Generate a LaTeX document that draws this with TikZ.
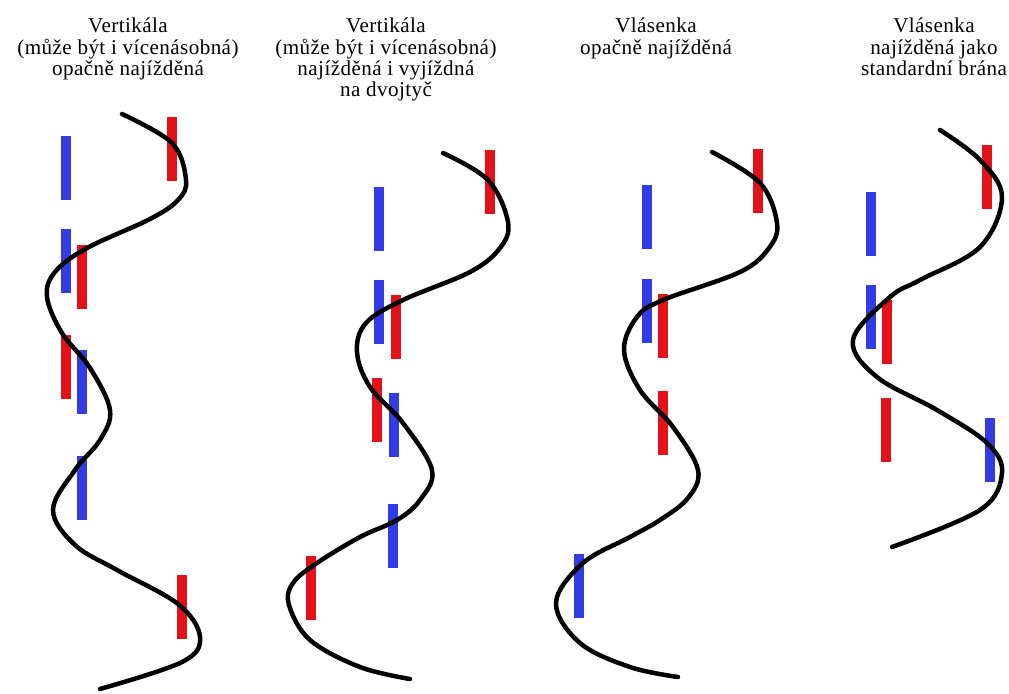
\documentclass[tikz,border=0pt]{standalone}
\usepackage{fontspec}
\setmainfont{Liberation Serif}
\newfontfamily\titulek[LetterSpace=2]{Liberation Serif}
\usepackage{tikz}
\usetikzlibrary{positioning}
\definecolor{modra}{RGB}{50,60,228}
\definecolor{cervena}{RGB}{226,18,24}
\tikzset{
  branaM/.style={rectangle, fill=modra, inner sep=0pt, minimum width=0.27cm, minimum height=1.58cm},
  branaC/.style={rectangle, fill=cervena, inner sep=0pt, minimum width=0.27cm, minimum height=1.58cm},
  trat/.style={line width=3.2pt, line cap=round, draw=black},
  popis/.style={align=center, anchor=north, inner sep=0pt, font=\titulek\fontsize{15}{15}\selectfont},
}

\begin{document}
\begin{tikzpicture}[x=0.025cm, y=-0.025cm]
    \useasboundingbox (0,0) rectangle (1009,693);
    % nadpisy
    \node[popis] (nadpis1) at (128,18) {Vertikála\\(může být i vícenásobná)\\opačně najížděná};
    \node[popis] (nadpis2) at (386,18) {Vertikála\\(může být i vícenásobná)\\najížděná i vyjíždná\\na dvojtyč};
    \node[popis] (nadpis3) at (656,18) {Vlásenka\\opačně najížděná};
    \node[popis] (nadpis4) at (934,18) {Vlásenka\\najížděná jako\\standardní brána};
    % vertikala opacne
    \node[branaC] (v1c1) at (172,149) {}; \node[branaM] (v1m1) at (66,168) {};
    \node[branaM] (v1m2) at (66,261) {};  \node[branaC] (v1c2) at (82,277) {};
    \node[branaC] (v1c3) at (66,367) {};  \node[branaM] (v1m3) at (82,382) {};
    \node[branaM] (v1m4) at (82,488) {};  \node[branaC] (v1c4) at (182,607) {};
    \draw[trat] plot[smooth, tension=0.6] coordinates {(122,114) (172,143) (186,180) (178,200)
      (150,219) (87,248) (55,272) (47,297) (62,333) (90,368) (110,410) (100,440) (75,470)
      (53,510) (75,545) (117,570) (178,604) (200,637) (182,662) (100,689)};
    % vertikala na dvojtyc
    \node[branaC] (v2c1) at (490,182) {}; \node[branaM] (v2m1) at (379,219) {};
    \node[branaM] (v2m2) at (379,312) {}; \node[branaC] (v2c2) at (396,327) {};
    \node[branaC] (v2c3) at (377,410) {}; \node[branaM] (v2m3) at (394,425) {};
    \node[branaM] (v2m4) at (393,536) {}; \node[branaC] (v2c4) at (311,588) {};
    \draw[trat] plot[smooth, tension=0.6] coordinates {(443,153) (488,180) (508,222) (500,248)
      (470,272) (403,300) (366,323) (357,352) (370,387) (403,423) (432,470) (420,500)
      (397,520) (360,537) (317,563) (293,583) (289,605) (310,640) (360,667) (410,679)};
    % vlasenka opacne
    \node[branaC] (h1c1) at (758,181) {}; \node[branaM] (h1m1) at (647,217) {};
    \node[branaM] (h1m2) at (647,311) {}; \node[branaC] (h1c2) at (663,326) {};
    \node[branaC] (h1c3) at (663,423) {}; \node[branaM] (h1m3) at (579,586) {};
    \draw[trat] plot[smooth, tension=0.6] coordinates {(712,152) (760,183) (777,223) (769,248)
      (740,272) (663,300) (637,317) (624,350) (640,390) (673,427) (698,470)
      (688,498) (660,520) (630,537) (583,563) (556,603) (580,643) (630,667) (678,677)};
    % vlasenka jako brana
    \node[branaC] (h2c1) at (987,177) {}; \node[branaM] (h2m1) at (871,224) {};
    \node[branaM] (h2m2) at (871,317) {}; \node[branaC] (h2c2) at (887,332) {};
    \node[branaC] (h2c3) at (886,430) {}; \node[branaM] (h2m3) at (990,450) {};
    \draw[trat] plot[smooth, tension=0.6] coordinates {(940,130) (980,160) (1002,197) (980,247)
      (920,280) (890,297) (853,340) (877,377) (937,410) (987,443) (1002,473) (980,510)
      (892,547)};
\end{tikzpicture}
\end{document}
